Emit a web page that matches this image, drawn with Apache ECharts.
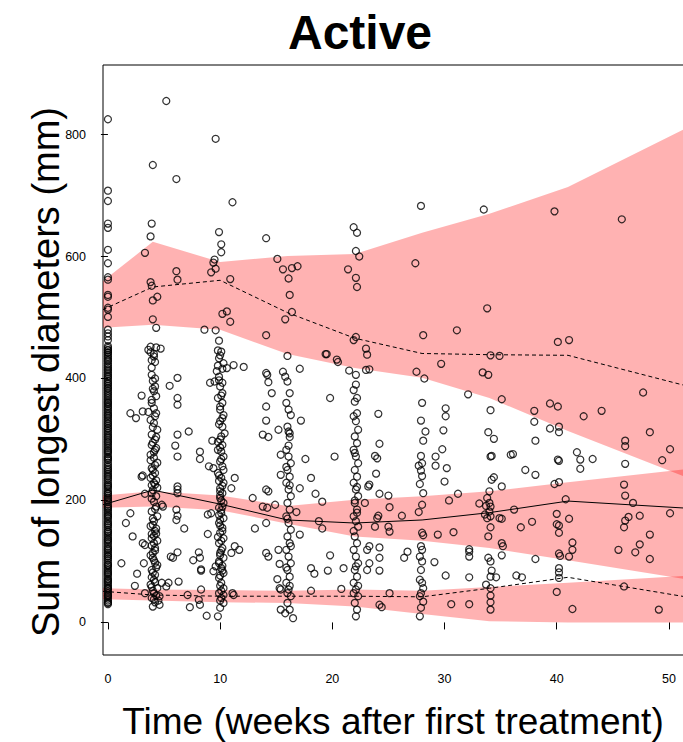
<!DOCTYPE html>
<html>
<head>
<meta charset="utf-8">
<script src="https://cdn.jsdelivr.net/npm/echarts@6/dist/echarts.min.js"></script>
<style>
html,body{margin:0;padding:0;background:#fff;overflow:hidden;}
#chart{width:700px;height:742px;}
</style>
</head>
<body>
<div id="chart"></div>
<script>
// ---------- Data ----------
const xTicks = [0, 10, 20, 30, 40, 50];
const yTicks = [0, 200, 400, 600, 800];

// Bin times for prediction-interval bands and observed percentile lines
const bandTime = [-0.44, 4, 10, 16, 22, 28, 34, 41, 52.8];
const pi95Lo = [483, 488, 480, 440, 417, 401, 368, 314, 229];
const pi95Hi = [560, 624, 591, 601, 604, 639, 670, 714, 822];
const pi50Lo = [188, 190, 184, 162, 141, 134, 122, 102, 67];
const pi50Hi = [208, 215, 208, 191, 201, 207, 215, 230, 254];
const pi5Lo  = [38, 36, 33, 32, 26, 14, 2, 0, 0];
const pi5Hi  = [56, 54, 53, 52, 54, 52, 58, 65, 78];

const lineTime = [-0.44, 4, 10, 16, 22, 28, 34, 41, 52.8];
const obs95 = [513, 550, 561, 508, 466, 441, 439, 438, 382];
const obs50 = [193, 217, 194, 168, 163, 168, 180, 199, 186];
const obs5  = [51, 45, 43, 43, 43, 42, 56, 74, 38];

// Observations at week 0
const visit0 = [825,708,691,654,647,611,589,566,562,537,534,516,513,501,480,474,469,463,453,447,442,436,430,424,418,410,402,396,388,380,371,365,358,350,344,336,330,322,314,308,300,292,286,279,272,266,258,250,244,236,229,222,215,208,200,193,186,180,173,166,159,152,145,139,132,125,118,112,105,98,92,86,79,72,66,60,54,48,42,36,30,
450,446,443,439,433,428,421,415,413,407,404,399,393,391,385,383,377,374,368,362,360,355,353,347,341,339,333,327,325,319,317,311,305,303,297,295,289,283,281,276,270,268,262,255,252,247,241,239,233,226,224,219,212,211,205,203,197,190,188,183,177,175,170,163,161,156,149,148,142,136,135,129,122,120,115,109,108,102,95,94,89,83,81,76,70,68,63,57,56,51,45,44,39,33,32];

// Observations [time, value]
const ptsW4 = [[3.8,443],[4.1,436],[3.9,430],[4.2,427],[3.9,406],[4.0,396],[4.2,387],[4.1,379],[4.3,371],[3.9,360],[4.1,351],[4.3,343],[3.8,332],[4.1,327],[4.4,316],[3.9,308],[4.2,300],[3.9,291],[4.2,283],[3.8,275],[4.1,270],[4.4,262],[3.9,253],[4.2,245],[3.8,237],[4.1,229],[4.4,221],[4.0,217],[3.9,212],[4.3,207],[4.1,198],[4.3,190],[3.9,182],[4.4,174],[4.1,166],[3.8,158],[4.2,150],[4.1,142],[4.4,134],[3.9,126],[4.2,118],[3.8,110],[4.1,102],[4.4,94],[3.9,86],[4.2,78],[4.1,70],[3.8,62],[4.4,56],[4.1,48],[3.9,40],[4.2,33],[4.6,29],[4.0,26],
[4.0,750],[3.9,654],[3.8,633],[3.3,606],[3.8,558],[3.9,552],[4.4,534],[4.0,528],[4.0,497],[4.3,483],[3.8,452],[4.3,451],[4.7,449],[3.6,447],
[3.1,241],[3.0,239],[3.3,211],[2.0,343],[2.5,335],[3.1,346],[3.6,345],[3.0,372],[3.1,130],[3.3,127],[3.2,97],[2.2,141],[1.6,163],[2.0,179],[1.2,97],[2.6,80],[2.4,60],[3.3,48],[5.2,59],[4.8,65],[4.6,43],[4.9,190],[4.8,193],[5.2,855],
[4.0,295],[4.3,286],[3.8,266],[4.2,258],[4.0,241],[4.3,233],[3.9,225],[4.0,160],[4.3,146],[3.9,138],[4.2,122],[4.0,106],[4.3,90],[3.9,74],[4.0,52],[4.3,44],[4.5,36],
[4.1,440],[3.9,418],[4.2,400],[4.0,383],[3.9,365],[4.2,338],[4.0,320],[4.3,304],[4.1,279],[4.0,250],[4.2,226],[3.9,203],[4.2,186],[4.0,170],[4.3,154],[3.9,145],[4.1,130],[4.0,114],[4.2,98],[4.0,82],[4.2,66],[3.9,58],[4.1,38]];

const ptsW7 = [[5.5,388],[6.2,401],[6.2,368],[6.2,357],[6.2,308],[7.2,313],[6.0,290],[6.2,272],[8.2,280],[6.2,223],[6.2,218],[6.2,212],[6.1,185],[6.2,175],[6.1,168],[6.8,154],[6.2,115],[5.8,106],[8.1,115],[8.2,106],[7.6,102],[8.3,85],[8.3,87],[6.3,67],[7.3,25],[8.2,29],[8.1,37],[8.8,11],[7.1,45],[5.6,108],[5.4,65],[8.3,54],[8.9,145],[8.2,268],[9.3,298],[6.1,727],[6.1,576],[6.2,562],[8.6,480]];

const ptsW10 = [[10.1,444],[9.9,433],[10.3,425],[9.8,421],[9.7,412],[9.9,403],[10.2,393],[10.0,387],[10.2,376],[9.8,368],[10.2,360],[10.0,349],[10.3,340],[10.2,335],[10.0,330],[10.2,321],[10.4,310],[10.0,300],[10.2,291],[9.8,283],[10.3,272],[10.0,264],[10.2,256],[9.8,245],[10.1,237],[10.3,229],[10.0,220],[10.2,212],[10.0,204],[10.3,196],[9.9,188],[10.1,179],[10.3,171],[9.9,163],[10.2,155],[10.0,147],[10.3,138],[9.9,130],[10.2,122],[10.0,114],[10.3,106],[9.9,97],[10.1,89],[10.3,81],[9.9,73],[10.1,65],[10.3,56],[9.9,48],[10.1,40],[10.3,32],[10.0,24],[10.1,280],[9.9,232],[10.2,190],[10.0,168],[9.8,140],[10.1,118],[9.9,100],[10.2,85],[10.0,60],[10.3,45],[10.0,215],[10.3,250],[9.8,296],[10.1,200],[9.9,176],[10.2,150],
[10.0,438],[10.2,416],[9.9,397],[10.1,372],[10.0,354],[9.9,325],[10.1,305],[10.0,287],[10.1,268],[9.9,241],[10.2,224],[10.0,208],[10.1,184],[10.0,159],[10.1,134],[10.0,110],[10.2,93],[10.0,77],[10.1,52],[10.0,36],
[9.6,793],[11.1,689],[9.9,640],[10.1,620],[10.1,607],[9.5,595],[9.4,590],[9.2,574],[9.6,580],[10.9,563],[10.6,510],[10.2,506],[10.9,493],[9.6,479],[9.9,462],[9.8,446],
[9.1,393],[9.5,395],[11.2,422],[10.6,417],[12.1,419],[9.4,253],[9.0,256],[11.3,237],[11.0,220],[12.9,204],[8.9,177],[9.2,179],[11.3,125],[11.7,119],[11.0,114],[9.6,92],[9.4,84],[11.2,45],[11.1,48],[9.8,10]];

const ptsW16 = [[14.1,630],[15.1,596],[15.6,579],[16.4,581],[16.9,584],[16.1,564],[16.2,537],[16.4,509],[15.8,497],[14.1,471],[16.0,437],[19.5,440],
[14.1,409],[14.2,406],[14.3,394],[15.6,411],[15.8,403],[14.6,376],[14.1,354],[14.1,331],[13.8,308],[14.3,304],[15.2,316],[16.1,313],[16.2,310],[15.4,275],[15.4,242],[14.3,215],[14.9,193],[14.1,163],[13.1,154],[14.1,114],[14.3,108],[15.3,56],[15.4,54],[15.4,21],[15.8,15],[16.5,7],[14.1,218],[13.8,190],[14.2,188],[15.2,119],[15.3,96],[15.1,71],
[16.0,395],[16.2,376],[15.9,360],[16.1,349],[16.3,340],[16.0,321],[16.2,304],[15.9,283],[16.1,272],[16.3,261],[16.0,250],[16.2,239],[15.9,229],[16.1,218],[16.3,207],[16.0,196],[16.2,185],[15.9,174],[16.1,163],[16.3,152],[16.0,141],[16.2,130],[15.9,119],[16.1,108],[16.3,97],[16.0,86],[16.2,75],[15.9,65],[16.1,54],[16.3,43],[16.0,32],[16.2,21],[16.1,290],[15.9,255],[16.2,225],[16.0,170],[16.3,125],[15.9,90],[16.2,60],[16.0,48],
[17.1,416],[19.8,368],[17.2,331],[17.6,268],[20.2,272],[18.1,237],[17.1,220],[18.5,211],[19.1,198],[16.8,181],[17.1,144],[18.8,166],[19.1,154],[19.8,110],[19.6,85],[18.1,89],[18.4,80],[18.1,52],[20.8,55],[21.0,89],[20.4,431],[19.4,440],[20.5,427]];

const ptsW22 = [[21.9,648],[22.2,639],[22.1,609],[22.4,600],[21.4,579],[22.1,565],[22.2,550],[22.1,468],[21.9,463],[23.0,449],[23.1,439],[21.5,413],[22.1,406],[23.0,414],
[22.1,390],[21.9,381],[22.2,368],[22.0,362],[22.2,343],[21.9,338],[22.1,330],[22.3,316],[22.0,305],[22.2,294],[21.9,283],[22.1,272],[22.3,261],[22.0,250],[22.2,239],[21.9,229],[22.1,218],[22.3,207],[22.0,196],[22.2,185],[21.9,174],[22.1,166],[22.3,157],[22.0,141],[22.2,130],[21.9,119],[22.1,108],[22.3,97],[22.0,86],[22.2,75],[21.9,65],[22.1,54],[22.3,43],[22.0,32],[22.2,21],[22.1,10],[22.0,200],[22.2,180],[21.9,150],[22.1,92],[22.3,60],[21.9,48],[22.0,278],[22.2,222],
[23.3,415],[24.1,342],[24.2,293],[23.8,273],[24.0,269],[23.9,244],[23.3,226],[23.2,223],[24.2,211],[25.0,208],[25.1,189],[22.9,196],[24.1,175],[24.0,171],[23.8,157],[25.1,149],[25.0,157],[23.3,125],[23.1,119],[24.2,123],[24.2,106],[24.2,85],[23.3,97],[23.1,86],[24.2,29],[24.4,25],[25.1,48],[26.2,175],[26.7,116],[26.4,106]];

const ptsW28 = [[27.9,683],[27.4,589],[28.1,471],[27.5,411],[28.2,400],
[28.0,360],[27.9,331],[28.3,313],[28.1,298],[27.9,273],[28.0,261],[27.7,257],[27.9,249],[28.0,240],[27.8,227],[28.1,212],[28.0,193],[27.7,181],[28.0,147],[28.1,143],[27.9,125],[28.0,119],[27.8,108],[28.0,100],[27.9,86],[27.8,70],[28.0,65],[28.1,56],[27.9,48],[27.8,43],[28.1,34],[27.9,24],[27.8,10],
[30.1,351],[30.1,338],[29.9,315],[29.2,272],[29.2,257],[30.2,253],[30.0,231],[29.8,284],[32.1,374],[31.2,211],[30.4,200],[29.4,144],[30.8,148],[29.1,99],[32.2,120],[32.2,116],[32.2,108],[30.1,77],[32.2,74],[30.6,30],[32.2,30],[29.7,424],[31.1,479]];

const ptsW34 = [[33.5,677],[33.8,515],[34.1,438],[34.9,437],[33.4,410],[33.9,406],
[35.1,366],[34.1,348],[33.9,312],[34.4,301],[34.1,272],[34.2,273],[36.1,276],[35.9,275],[33.1,195],[37.2,250],[34.4,238],[34.2,234],[35.1,223],[34.0,215],[33.8,204],[34.0,196],[34.1,190],[33.7,191],[34.0,182],[33.6,177],[33.8,171],[34.1,174],[34.1,156],[33.9,141],[34.9,171],[35.1,170],[36.2,185],[36.8,156],[37.8,165],[35.1,130],[35.2,125],[35.1,110],[33.9,106],[34.1,100],[34.2,85],[34.1,75],[34.6,74],[33.7,62],[34.1,56],[34.1,44],[34.1,33],[34.1,21],[36.4,77],[36.9,74],[38.1,104]];

const ptsW40 = [[39.8,674],[40.1,460],[41.1,463],[38.0,347],[38.0,329],[38.1,298],[38.1,242],[39.4,359],[40.1,354],[39.4,318],[40.2,321],[40.2,312],[40.1,267],[40.2,265],[39.8,227],[40.2,230],[40.8,202],[40.0,178],[40.0,161],[40.2,159],[40.2,147],[41.1,170],[40.2,113],[40.3,109],[41.1,108],[41.4,131],[41.4,119],[40.2,89],[40.2,82],[40.2,73],[40.0,50],[41.4,22],[42.4,338],[41.8,279],[42.1,267],[42.1,252],[43.2,268],[44.0,347]];

const ptsW46 = [[45.8,661],[45.5,119],[47.0,115],[47.4,128],[46.1,298],[46.1,289],[46.1,260],[46.0,226],[46.1,208],[46.8,196],[47.4,175],[46.4,173],[46.1,167],[46.0,156],[48.3,144],[48.3,104],[46.0,59],[47.7,377],[48.3,312],[50.1,284],[49.4,266],[50.1,179],[49.1,21]];

// ---------- Chart ----------
const scatterData = visit0.map(v => [0, v]).concat(ptsW4, ptsW7, ptsW10, ptsW16, ptsW22, ptsW28, ptsW34, ptsW40, ptsW46);
const FONT = "'Liberation Sans', Arial, Helvetica, sans-serif";

function bandSeries(lo, hi) {
  return {
    type: 'custom', silent: true, z: 1,
    data: bandTime.map((t, i) => [t, lo[i], hi[i]]),
    encode: { x: 0, y: [1, 2] },
    renderItem: function (params, api) {
      if (params.dataIndex !== 0) return null;
      const top = bandTime.map((t, i) => api.coord([t, hi[i]]));
      const bot = bandTime.map((t, i) => api.coord([t, lo[i]])).reverse();
      return { type: 'polygon', shape: { points: top.concat(bot) }, style: { fill: 'rgba(255,0,0,0.3)' } };
    }
  };
}
function lineSeries(vals, dashed) {
  return {
    type: 'line', silent: true, z: 3, showSymbol: false, symbol: 'none',
    data: lineTime.map((t, i) => [t, vals[i]]),
    lineStyle: { color: '#000', width: 1, type: dashed ? [4, 3] : 'solid' }
  };
}

const chart = echarts.init(document.getElementById('chart'), null, { renderer: 'svg', width: 700, height: 742 });
chart.setOption({
  animation: false,
  backgroundColor: '#fff',
  grid: { left: 103, top: 65, right: 0, bottom: 87, show: true, borderColor: '#000', borderWidth: 1, backgroundColor: 'transparent', containLabel: false },
  xAxis: {
    type: 'value', min: -0.44, max: 52.77,
    axisLine: { show: false },
    splitLine: { show: false },
    axisTick: { show: true, length: 7, customValues: xTicks, lineStyle: { color: '#000', width: 1 } },
    axisLabel: { customValues: xTicks, margin: 17, color: '#000', fontSize: 12.5, fontFamily: FONT }
  },
  yAxis: {
    type: 'value', min: -53.4, max: 914,
    axisLine: { show: false },
    splitLine: { show: false },
    axisTick: { show: true, length: 7, customValues: yTicks, lineStyle: { color: '#000', width: 1 } },
    axisLabel: { customValues: yTicks, margin: 17, color: '#000', fontSize: 12.5, fontFamily: FONT }
  },
  graphic: [
    { type: 'text', x: 360, y: 32, style: { text: 'Active', font: 'bold 48px ' + FONT, fill: '#000', textAlign: 'center', textVerticalAlign: 'middle' } },
    { type: 'text', x: 393, y: 721, style: { text: 'Time (weeks after first treatment)', font: '37px ' + FONT, fill: '#000', textAlign: 'center', textVerticalAlign: 'middle' } },
    { type: 'text', x: 46, y: 372, rotation: Math.PI / 2, style: { text: 'Sum of longest diameters (mm)', font: '38px ' + FONT, fill: '#000', textAlign: 'center', textVerticalAlign: 'middle' } }
  ],
  series: [
    bandSeries(pi95Lo, pi95Hi),
    bandSeries(pi50Lo, pi50Hi),
    bandSeries(pi5Lo, pi5Hi),
    {
      type: 'scatter', silent: true, z: 2, symbol: 'circle', symbolSize: 7,
      data: scatterData,
      itemStyle: { color: 'rgba(0,0,0,0)', borderColor: '#000', borderWidth: 1.25 }
    },
    lineSeries(obs95, true),
    lineSeries(obs50, false),
    lineSeries(obs5, true)
  ]
});
</script>
</body>
</html>
